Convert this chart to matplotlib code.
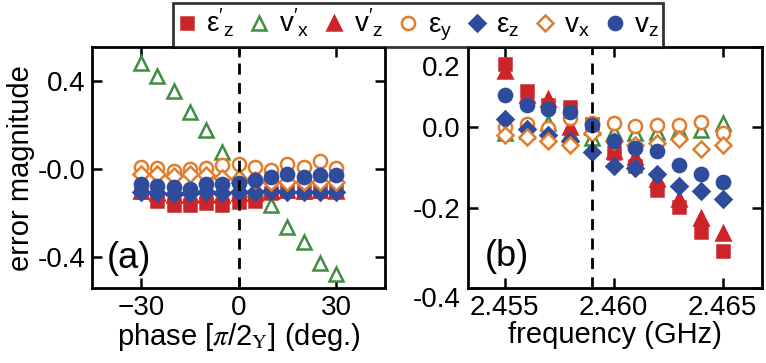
import matplotlib
matplotlib.use("Agg")
import matplotlib.pyplot as plt
from matplotlib.lines import Line2D
from matplotlib.transforms import ScaledTranslation

plt.rcParams['font.family'] = ['Liberation Sans', 'DejaVu Sans']
plt.rcParams['mathtext.fontset'] = 'custom'
plt.rcParams['mathtext.rm'] = 'Liberation Sans'
plt.rcParams['mathtext.it'] = 'Liberation Sans:italic'

RED = "#cc2529"
GREEN = "#3e8e41"
ORANGE = "#e37d2b"
BLUE = "#2f4b9b"

# (a) phase sweep
phase = [-30, -25, -20, -15, -10, -5, 0, 5, 10, 15, 20, 25, 30]
a_eps_pz = [-0.106, -0.145, -0.167, -0.163, -0.155, -0.163, -0.152, -0.145, -0.11, -0.1, -0.105, -0.1, -0.1]
a_v_px = [0.479, 0.421, 0.354, 0.259, 0.178, 0.076, -0.030, -0.09, -0.167, -0.266, -0.332, -0.430, -0.479]
a_v_pz = [-0.1, -0.11, -0.12, -0.12, -0.115, -0.12, -0.11, -0.11, -0.1, -0.095, -0.1, -0.095, -0.1]
a_eps_y = [0.008, 0.005, -0.012, 0.0, 0.005, 0.015, 0.023, 0.008, -0.005, 0.02, 0.008, 0.035, 0.005]
a_eps_z = [-0.106, -0.11, -0.115, -0.112, -0.108, -0.11, -0.108, -0.106, -0.1, -0.106, -0.106, -0.104, -0.106]
a_v_x = [-0.026, -0.023, -0.035, -0.026, -0.03, -0.04, -0.045, -0.05, -0.062, -0.06, -0.062, -0.06, -0.062]
a_v_z = [-0.068, -0.08, -0.084, -0.09, -0.068, -0.071, -0.065, -0.05, -0.038, -0.023, -0.038, -0.03, -0.03]

# (b) frequency sweep
freq = [2.455, 2.456, 2.457, 2.458, 2.459, 2.460, 2.461, 2.462, 2.463, 2.464, 2.465]
b_eps_pz = [0.157, 0.089, 0.055, 0.05, 0.008, -0.063, -0.096, -0.157, -0.198, -0.26, -0.307]
b_v_px = [-0.015, -0.01, 0.011, -0.015, -0.027, -0.011, -0.015, -0.011, -0.007, -0.007, 0.01]
b_v_pz = [0.14, 0.079, 0.069, 0.0, 0.0, -0.06, -0.075, -0.128, -0.177, -0.226, -0.263]
b_eps_y = [0.0, 0.008, -0.002, 0.022, 0.01, 0.011, 0.003, 0.006, 0.006, 0.014, -0.015]
b_eps_z = [0.02, -0.005, -0.019, -0.035, -0.062, -0.096, -0.102, -0.115, -0.147, -0.159, -0.177]
b_v_x = [-0.019, -0.023, -0.035, -0.043, -0.014, -0.035, -0.045, -0.039, -0.029, -0.054, -0.043]
b_v_z = [0.079, 0.056, 0.045, 0.037, 0.006, -0.035, -0.051, -0.058, -0.094, -0.115, -0.137]

LABELS = [r"$\mathrm{ε}'_{\rm z}$", r"$\mathrm{v}'_{\rm x}$", r"$\mathrm{v}'_{\rm z}$",
          r"$\mathrm{ε}_{\rm y}$", r"$\mathrm{ε}_{\rm z}$", r"$\mathrm{v}_{\rm x}$",
          r"$\mathrm{v}_{\rm z}$"]
STYLES = [
    dict(marker="s", color=RED, mfc=RED),
    dict(marker="^", color=GREEN, mfc="white"),
    dict(marker="^", color=RED, mfc=RED),
    dict(marker="o", color=ORANGE, mfc="white"),
    dict(marker="D", color=BLUE, mfc=BLUE),
    dict(marker="D", color=ORANGE, mfc="white"),
    dict(marker="o", color=BLUE, mfc=BLUE),
]
SIZES = {"s": 9, "^": 10, "o": 9.5, "D": 8.5}


def draw(ax, x, series):
    for ys, st in zip(series, STYLES):
        ax.plot(x, ys, ls="none", marker=st["marker"], mec=st["color"], mfc=st["mfc"],
                ms=SIZES[st["marker"]], mew=1.8)


def style_axis(ax):
    for sp in ax.spines.values():
        sp.set_linewidth(2)
    ax.tick_params(direction="in", top=True, right=True, length=7, width=1.8,
                   labelsize=20, pad=5)


fig = plt.figure(figsize=(7.66, 3.63), dpi=100)
ax_a = fig.add_axes([0.1205, 0.2066, 0.3821, 0.6634])
ax_b = fig.add_axes([0.6106, 0.2058, 0.3838, 0.6655])

draw(ax_a, phase, [a_eps_pz, a_v_px, a_v_pz, a_eps_y, a_eps_z, a_v_x, a_v_z])
ax_a.axvline(0, color="black", ls=(0, (4, 3)), lw=2)
ax_a.set_xlim(-45, 45)
ax_a.set_ylim(-0.542, 0.552)
ax_a.set_xticks([-30, 0, 30])
ax_a.set_yticks([0.4, 0.0, -0.4])
ax_a.set_yticklabels(["0.4", "-0.0", "-0.4"])
ax_a.set_xlabel(r"phase [$\pi$/2$_{\rm Y}$] (deg.)", fontsize=21, labelpad=0,
                math_fontfamily="stix")
ax_a.set_ylabel("error magnitude", fontsize=21, labelpad=2)
ax_a.text(-33.6, -0.41, "(a)", fontsize=26, ha="center", va="center")
style_axis(ax_a)

draw(ax_b, freq, [b_eps_pz, b_v_px, b_v_pz, b_eps_y, b_eps_z, b_v_x, b_v_z])
ax_b.axvline(2.459, color="black", ls=(0, (4, 3)), lw=2)
ax_b.set_xlim(2.4533, 2.4668)
ax_b.set_ylim(-0.4, 0.2)
ax_b.set_xticks([2.455, 2.460, 2.465])
ax_b.set_xticklabels(["2.455", "2.460", "2.465"])
ax_b.set_yticks([0.2, 0.0, -0.2, -0.4])
ax_b.set_yticklabels(["0.2", "0.0", "-0.2", "-0.4"])
ax_b.set_xlabel("frequency (GHz)", fontsize=21, labelpad=0)
ax_b.text(2.4551, -0.32, "(b)", fontsize=26, ha="center", va="center")
style_axis(ax_b)

# end labels of (b) sit slightly inside, as in the original export
ticks_b = ax_b.yaxis.get_major_ticks()
ticks_b[0].label1.set_transform(ticks_b[0].label1.get_transform()
                                + ScaledTranslation(0, -14 / 72, fig.dpi_scale_trans))
ticks_b[-1].label1.set_transform(ticks_b[-1].label1.get_transform()
                                 + ScaledTranslation(0, -6 / 72, fig.dpi_scale_trans))

handles = [Line2D([], [], ls="none", marker=st["marker"], mec=st["color"], mfc=st["mfc"],
                  ms=SIZES[st["marker"]], mew=1.8) for st in STYLES]
leg = fig.legend(handles, LABELS, loc="upper center", bbox_to_anchor=(0.546, 1.0),
                 ncol=7, fontsize=20, frameon=True, fancybox=False,
                 handlelength=0.7, handletextpad=0.35, columnspacing=0.55,
                 borderpad=0.15, borderaxespad=0.1)
leg.get_frame().set_edgecolor("black")
leg.get_frame().set_linewidth(2)

fig.savefig("out.png", dpi=100)
